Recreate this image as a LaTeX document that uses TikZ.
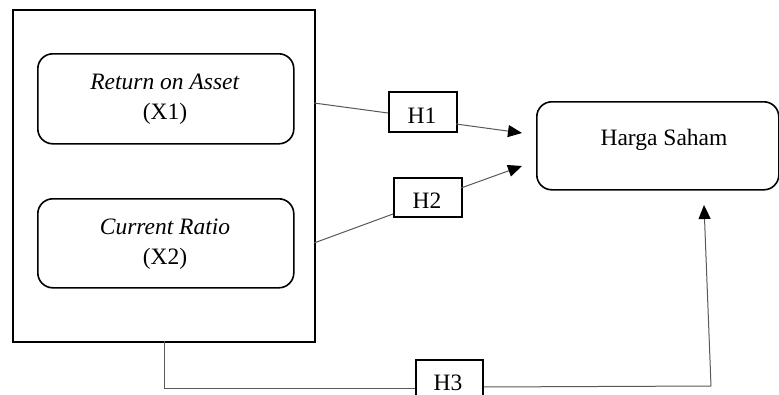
\documentclass[tikz,border=0pt]{standalone}
\usepackage{fontspec}
\setmainfont{Liberation Serif}
\usetikzlibrary{arrows.meta}
\begin{document}
\begin{tikzpicture}[x=1pt,y=-1pt,
  font=\fontsize{23.5}{27}\selectfont,
  grpbox/.style={draw=black,line width=2pt},
  varbox/.style={draw=black,line width=1.6pt,rounded corners=15pt},
  hbox/.style={draw=black,line width=1.6pt,fill=white},
  conn/.style={draw=black!65,line width=1pt},
  arr/.style={conn,-{Triangle[length=14pt,width=12pt,fill=black,color=black]}},
  lbl/.style={anchor=base,inner sep=0pt}]
\clip (0,0) rectangle (779,394);
\fill[white] (0,0) rectangle (779,394);
% group and variable boxes
\node[grpbox,minimum width=302pt,minimum height=332pt,anchor=north west,inner sep=0pt] (grp) at (12,9) {};
\node[varbox,minimum width=256pt,minimum height=90pt,anchor=north west,inner sep=0pt] (x1) at (37,53) {};
\node[varbox,minimum width=256pt,minimum height=89pt,anchor=north west,inner sep=0pt] (x2) at (37,198) {};
\node[lbl] (x1a) at (165,89) {\textit{Return on Asset}};
\node[lbl] (x1b) at (165,119) {(X1)};
\node[lbl] (x2a) at (165,234) {\textit{Current Ratio}};
\node[lbl] (x2b) at (165,264) {(X2)};
% dependent variable
\node[varbox,minimum width=242pt,minimum height=88pt,anchor=north west,inner sep=0pt] (y) at (536,101) {};
\node[lbl] (ylbl) at (664,145) {Harga Saham};
% hypothesis boxes
\node[hbox,minimum width=68pt,minimum height=40pt,anchor=north west,inner sep=0pt] (h1) at (388,91) {};
\node[lbl] at (422,123) {H1};
\node[hbox,minimum width=68pt,minimum height=39pt,anchor=north west,inner sep=0pt] (h2) at (393,177) {};
\node[lbl] at (427,208) {H2};
% connector points
\coordinate (g1) at (314,103);
\coordinate (g2) at (314,243);
\coordinate (g3) at (164,341);
\coordinate (c3) at (164,388);
\coordinate (h1in) at (388,113);
\coordinate (h1out) at (456,124);
\coordinate (t1) at (522,133);
\coordinate (h2in) at (393,214);
\coordinate (h2out) at (461,188);
\coordinate (t2) at (522,166);
\coordinate (h3in) at (415,388);
\coordinate (h3out) at (482,387);
\coordinate (c4) at (711,386);
\coordinate (t3) at (704,205);
\draw[conn] (g1) -- (h1in);
\draw[arr] (h1out) -- (t1);
\draw[conn] (g2) -- (h2in);
\draw[arr] (h2out) -- (t2);
\draw[conn] (g3) -- (c3) -- (h3in);
\draw[conn] (h3out) -- (c4);
\draw[arr] (c4) -- (t3);
\node[hbox,minimum width=67pt,minimum height=45pt,anchor=north west,inner sep=0pt] (h3) at (415,359) {};
\node[lbl] at (448,390) {H3};
\end{tikzpicture}
\end{document}
